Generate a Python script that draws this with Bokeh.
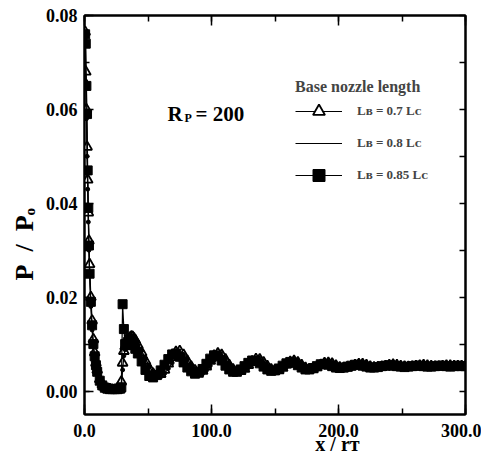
import math
from bokeh.plotting import figure
from bokeh.models import (Range1d, LinearAxis, SingleIntervalTicker, FixedTicker,
                          NumeralTickFormatter, Label, Legend, LegendItem, ColumnDataSource)
from bokeh.embed import file_html
from bokeh.resources import INLINE

# ---------------- data ----------------
x_rt = [0.5, 1, 1.5, 2, 2.5, 3, 3.5, 4, 5, 6, 7, 8, 9, 10,
        12, 14, 16, 18, 20, 22, 24, 26, 28,
        29, 30, 31, 32, 33, 34, 35, 36, 37, 38, 39, 40,
        42, 45, 48, 51, 54, 57, 60, 63, 66, 69,
        72, 75, 78, 81, 84, 87, 90, 93, 96, 99,
        102, 105, 108, 111, 114, 117, 120, 123, 126, 129,
        132, 135, 138, 141, 144, 147, 150, 153, 156, 159,
        162, 165, 168, 171, 174, 177, 180, 183, 186, 189,
        192, 195, 198, 201, 204, 207, 210, 213, 216, 219,
        222, 225, 228, 231, 234, 237, 240, 243, 246, 249,
        252, 255, 258, 261, 264, 267, 270, 273, 276, 279,
        282, 285, 288, 291, 294, 297, 300]

# L_B = 0.7 L_C  (open triangles)
p_lb070 = [0.0765, 0.068, 0.060, 0.052, 0.045, 0.038, 0.032, 0.027, 0.020, 0.015, 0.011, 0.0082, 0.0060, 0.0045,
           0.0025, 0.0014, 0.0008, 0.0005, 0.0004, 0.0003, 0.0003, 0.0003, 0.0004,
           0.0020, 0.0060, 0.0085, 0.0095, 0.0100, 0.0105, 0.0110, 0.0114, 0.0116, 0.0115, 0.0112, 0.0108,
           0.0098, 0.0082, 0.0064, 0.0048, 0.0037, 0.0033, 0.0036, 0.0045, 0.0058, 0.0072,
           0.0083, 0.0085, 0.0077, 0.0064, 0.0052, 0.0044, 0.0040, 0.0043, 0.0052, 0.0064,
           0.0075, 0.0080, 0.0077, 0.0067, 0.0055, 0.0046, 0.0041, 0.0042, 0.0047, 0.0055,
           0.0063, 0.0068, 0.0067, 0.0061, 0.0053, 0.0046, 0.0043, 0.0044, 0.0049, 0.0056,
           0.0062, 0.0064, 0.0061, 0.0055, 0.0049, 0.0046, 0.0046, 0.0050, 0.0055, 0.0059,
           0.0060, 0.0058, 0.0054, 0.0050, 0.0048, 0.0049, 0.0052, 0.0055, 0.0057, 0.0057,
           0.0055, 0.0052, 0.0050, 0.0050, 0.0051, 0.0053, 0.0055, 0.0056, 0.0055, 0.0053,
           0.0052, 0.0051, 0.0052, 0.0053, 0.0054, 0.0055, 0.0054, 0.0053, 0.0052, 0.0052,
           0.0053, 0.0054, 0.0054, 0.0053, 0.0053, 0.0053, 0.0053]

# L_B = 0.8 L_C  (small dots)
p_lb080 = [0.0750, 0.066, 0.058, 0.050, 0.043, 0.036, 0.030, 0.025, 0.018, 0.013, 0.0095, 0.0070, 0.0052, 0.0038,
           0.0020, 0.0011, 0.0006, 0.0004, 0.0003, 0.0003, 0.0002, 0.0002, 0.0003,
           0.0010, 0.0045, 0.0075, 0.0088, 0.0094, 0.0099, 0.0103, 0.0106, 0.0108, 0.0109, 0.0108, 0.0105,
           0.0098, 0.0086, 0.0070, 0.0053, 0.0040, 0.0032, 0.0031, 0.0037, 0.0048, 0.0060,
           0.0071, 0.0078, 0.0077, 0.0068, 0.0056, 0.0046, 0.0039, 0.0038, 0.0044, 0.0054,
           0.0065, 0.0072, 0.0074, 0.0068, 0.0058, 0.0048, 0.0041, 0.0040, 0.0043, 0.0050,
           0.0057, 0.0062, 0.0063, 0.0060, 0.0054, 0.0047, 0.0043, 0.0042, 0.0045, 0.0051,
           0.0056, 0.0060, 0.0060, 0.0056, 0.0051, 0.0047, 0.0045, 0.0047, 0.0051, 0.0055,
           0.0058, 0.0058, 0.0055, 0.0051, 0.0048, 0.0048, 0.0050, 0.0053, 0.0055, 0.0056,
           0.0055, 0.0053, 0.0051, 0.0050, 0.0050, 0.0052, 0.0054, 0.0055, 0.0055, 0.0054,
           0.0052, 0.0051, 0.0051, 0.0052, 0.0053, 0.0054, 0.0054, 0.0053, 0.0052, 0.0052,
           0.0053, 0.0053, 0.0054, 0.0053, 0.0052, 0.0053, 0.0053]

# L_B = 0.85 L_C  (filled squares)
p_lb085 = [0.0760, 0.0740, 0.0650, 0.0590, 0.0470, 0.0390, 0.0310, 0.0250, 0.0190, 0.0140, 0.0100, 0.0074, 0.0055, 0.0041,
           0.0022, 0.0012, 0.0007, 0.0005, 0.0004, 0.0004, 0.0004, 0.0004, 0.0005,
           0.0008, 0.0185, 0.0132, 0.0100, 0.0098, 0.0104, 0.0110, 0.0112, 0.0110, 0.0105, 0.0098, 0.0090,
           0.0080, 0.0063, 0.0045, 0.0032, 0.0029, 0.0034, 0.0044, 0.0056, 0.0068, 0.0078,
           0.0080, 0.0073, 0.0061, 0.0050, 0.0042, 0.0037, 0.0039, 0.0047, 0.0058, 0.0069,
           0.0076, 0.0074, 0.0065, 0.0054, 0.0046, 0.0041, 0.0041, 0.0046, 0.0053, 0.0060,
           0.0065, 0.0064, 0.0059, 0.0052, 0.0046, 0.0043, 0.0044, 0.0048, 0.0054, 0.0059,
           0.0062, 0.0060, 0.0055, 0.0050, 0.0046, 0.0046, 0.0049, 0.0053, 0.0057, 0.0058,
           0.0056, 0.0053, 0.0050, 0.0049, 0.0050, 0.0052, 0.0054, 0.0056, 0.0056, 0.0054,
           0.0052, 0.0050, 0.0050, 0.0051, 0.0053, 0.0054, 0.0055, 0.0054, 0.0053, 0.0052,
           0.0051, 0.0052, 0.0053, 0.0054, 0.0054, 0.0053, 0.0052, 0.0052, 0.0053, 0.0054,
           0.0054, 0.0053, 0.0052, 0.0053, 0.0054, 0.0053, 0.0053]

series_labels = ["L\u0299 = 0.7 L\u1d04", "L\u0299 = 0.8 L\u1d04", "L\u0299 = 0.85 L\u1d04"]
x_title = "x / r\u1d1b"
y_title = "P\u00a0\u00a0/\u00a0\u00a0P\u2092"
x_ticks_major = 100
y_ticks_major = 0.02
right_ticks = [0.0, 0.01, 0.02, 0.03, 0.04, 0.05, 0.06, 0.07, 0.08]

FONT = "Liberation Serif"
NBSP = "\u00a0"

src = ColumnDataSource(dict(x=x_rt, a=p_lb070, b=p_lb080, c=p_lb085))

# frame on the reference: left 84, right 465, top 15, bottom 414
p = figure(width=481, height=463, x_range=Range1d(0, 300), y_range=Range1d(-0.005, 0.08),
           output_backend="svg", toolbar_location=None,
           min_border_left=84, min_border_right=16, min_border_top=15, min_border_bottom=49)
p.xgrid.visible = False
p.ygrid.visible = False
p.outline_line_color = "black"
p.outline_line_width = 2
p.background_fill_color = "white"
p.border_fill_color = "white"

# series
la = p.line("x", "a", source=src, line_color="black", line_width=1.2)
ma = p.scatter("x", "a", source=src, marker="triangle", size=10, fill_color="white",
               line_color="black", line_width=1.8)
lb = p.line("x", "b", source=src, line_color="black", line_width=1.2)
mb = p.scatter("x", "b", source=src, marker="circle", size=4, fill_color="black", line_color="black")
lc = p.line("x", "c", source=src, line_color="black", line_width=1.2)
mc = p.scatter("x", "c", source=src, marker="square", size=9, fill_color="black", line_color="black")

# axes
def style_axis(ax, major_in, minor_in):
    ax.axis_line_color = "black"
    ax.axis_line_width = 2
    ax.major_tick_in = major_in
    ax.major_tick_out = 0
    ax.minor_tick_in = minor_in
    ax.minor_tick_out = 0
    ax.major_tick_line_width = 1.5
    ax.minor_tick_line_width = 1.5
    ax.major_label_text_font = FONT
    ax.major_label_text_font_style = "bold"
    ax.major_label_text_font_size = "18px"
    ax.major_label_text_color = "black"
    ax.axis_label_text_font = FONT
    ax.axis_label_text_font_style = "bold"
    ax.axis_label_text_color = "black"

def hide_labels(ax):
    ax.major_label_text_font_size = "0px"
    ax.major_label_text_color = None
    ax.major_label_standoff = 0

xa = p.xaxis[0]
xa.ticker = SingleIntervalTicker(interval=x_ticks_major, num_minor_ticks=2)
xa.formatter = NumeralTickFormatter(format="0.0")
style_axis(xa, 10, 6)
xa.major_label_standoff = 9
# title sits right of centre on the reference: pad on the left with no-break spaces
xa.axis_label = NBSP * 25 + x_title
xa.axis_label_text_font_size = "20px"
xa.axis_label_standoff = -7

ya = p.yaxis[0]
ya.ticker = SingleIntervalTicker(interval=y_ticks_major, num_minor_ticks=2)
ya.formatter = NumeralTickFormatter(format="0.00")
style_axis(ya, 9, 5)
ya.major_label_standoff = 7
# title sits below centre on the reference: pad its (upper) end with no-break spaces
ya.axis_label = y_title + NBSP * 9
ya.axis_label_text_font_size = "26px"
ya.axis_label_standoff = 4

top = LinearAxis(ticker=SingleIntervalTicker(interval=x_ticks_major, num_minor_ticks=2))
style_axis(top, 10, 6)
hide_labels(top)
p.add_layout(top, "above")

right = LinearAxis(ticker=FixedTicker(ticks=right_ticks, minor_ticks=[]))
style_axis(right, 6, 0)
hide_labels(right)
p.add_layout(right, "right")

# legend
legend = Legend(items=[LegendItem(label=series_labels[0], renderers=[la, ma]),
                       LegendItem(label=series_labels[1], renderers=[lb]),
                       LegendItem(label=series_labels[2], renderers=[lc, mc])],
                location=(211, 224), title="Base nozzle length",
                title_text_font=FONT, title_text_font_style="bold", title_text_font_size="16px",
                label_text_font=FONT, label_text_font_style="bold", label_text_font_size="13px",
                glyph_width=47, glyph_height=30, label_height=30, spacing=2,
                label_standoff=15, padding=0, margin=0, title_standoff=0,
                border_line_color=None, background_fill_alpha=0)
p.add_layout(legend)

# text inside the frame, frame-relative screen pixels (measured on the reference)
def txt(t, px, py, size):
    p.add_layout(Label(x=px - 84, y=414 - py, x_units="screen", y_units="screen",
                       text=t, text_font=FONT, text_font_style="bold",
                       text_font_size=size, text_baseline="alphabetic", text_align="left",
                       text_color="black"))

# R_P = 200
txt("R", 167, 113, "21px")
txt("P", 184, 117, "12px")
txt("= 200", 195, 113, "21px")

open("out.html", "w").write(file_html(p, INLINE))
